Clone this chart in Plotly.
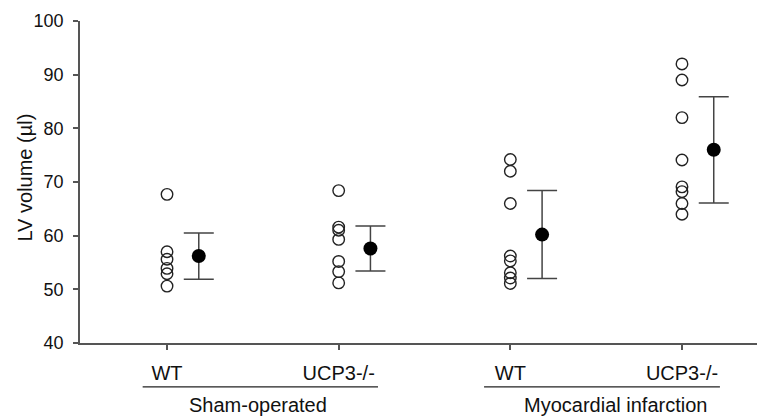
"""
LV volume scatter: individual animals (open circles) with mean +/- SD (filled).
"""

import plotly.graph_objects as go

# genotype labels under each column, and the two surgery groups
genotypes = ['WT', 'UCP3-/-', 'WT', 'UCP3-/-']
conditions = ['Sham-operated', 'Myocardial infarction']

# individual LV volumes (ul)
sham_wt = [67.7, 57.0, 55.6, 53.9, 52.9, 50.6]
sham_ucp3 = [68.4, 61.6, 61.0, 59.3, 55.2, 53.3, 51.2]
mi_wt = [74.2, 72.0, 66.0, 56.2, 55.3, 53.1, 52.1, 51.1]
mi_ucp3 = [92.0, 89.0, 82.0, 74.1, 69.1, 68.2, 66.0, 64.0]

# group mean and SD
means = [56.2, 57.6, 60.2, 76.0]
sds = [4.3, 4.2, 8.2, 9.9]

FONT = 'Liberation Sans, Arial, sans-serif'
AXIS_COLOR = '#555555'
MEAN_OFFSET = 0.185

fig = go.Figure()

for i, vals in enumerate([sham_wt, sham_ucp3, mi_wt, mi_ucp3]):
    fig.add_trace(go.Scatter(
        x=[i + 1] * len(vals),
        y=vals,
        mode='markers',
        marker=dict(symbol='circle-open', size=11.5, color='#222222',
                    line=dict(width=1.4, color='#222222')),
        showlegend=False,
        hoverinfo='y'
    ))

fig.add_trace(go.Scatter(
    x=[i + 1 + MEAN_OFFSET for i in range(len(means))],
    y=means,
    mode='markers',
    marker=dict(symbol='circle', size=14, color='black'),
    error_y=dict(type='data', array=sds, visible=True,
                 color='#444444', thickness=1.5, width=15),
    showlegend=False
))

# underline + group label under each pair of genotypes
underlines = [(0.858, 2.229), (2.847, 4.221)]
label_x = [1.530, 3.610]
for (x0, x1), lx, name in zip(underlines, label_x, conditions):
    fig.add_shape(type='line', xref='x', yref='paper',
                  x0=x0, x1=x1, y0=-0.136, y1=-0.136,
                  line=dict(color='#222222', width=1.3))
    fig.add_annotation(x=lx, y=-0.1925, xref='x', yref='paper',
                       text=name, showarrow=False,
                       xanchor='center', yanchor='middle',
                       font=dict(family=FONT, size=20, color='#111111'))

fig.add_annotation(x=-0.0812, y=0.514, xref='paper', yref='paper',
                   text='LV volume (µl)', textangle=-90, showarrow=False,
                   xanchor='center', yanchor='middle',
                   font=dict(family=FONT, size=20, color='#111111'))

fig.update_layout(
    width=757,
    height=416,
    margin=dict(l=80, r=0, t=21, b=73),
    plot_bgcolor='white',
    paper_bgcolor='white',
    font=dict(family=FONT, size=18, color='#111111'),
    xaxis=dict(
        range=[0.493, 4.437],
        tickvals=[1, 2, 3, 4],
        ticktext=genotypes,
        tickfont=dict(size=20),
        ticks='outside', ticklen=5, tickwidth=1.5, tickcolor=AXIS_COLOR,
        ticklabelstandoff=6,
        showline=True, linecolor=AXIS_COLOR, linewidth=1.5,
        showgrid=False, zeroline=False
    ),
    yaxis=dict(
        range=[40, 100],
        dtick=10,
        ticks='outside', ticklen=5, tickwidth=1.5, tickcolor=AXIS_COLOR,
        ticklabelstandoff=6,
        showline=True, linecolor=AXIS_COLOR, linewidth=1.5,
        showgrid=False, zeroline=False
    )
)

# the page body has a default 8px margin; drop it so the figure fills the window
fig.write_html("out.html", config={'displayModeBar': False},
               post_script="document.body.style.margin='0';")
